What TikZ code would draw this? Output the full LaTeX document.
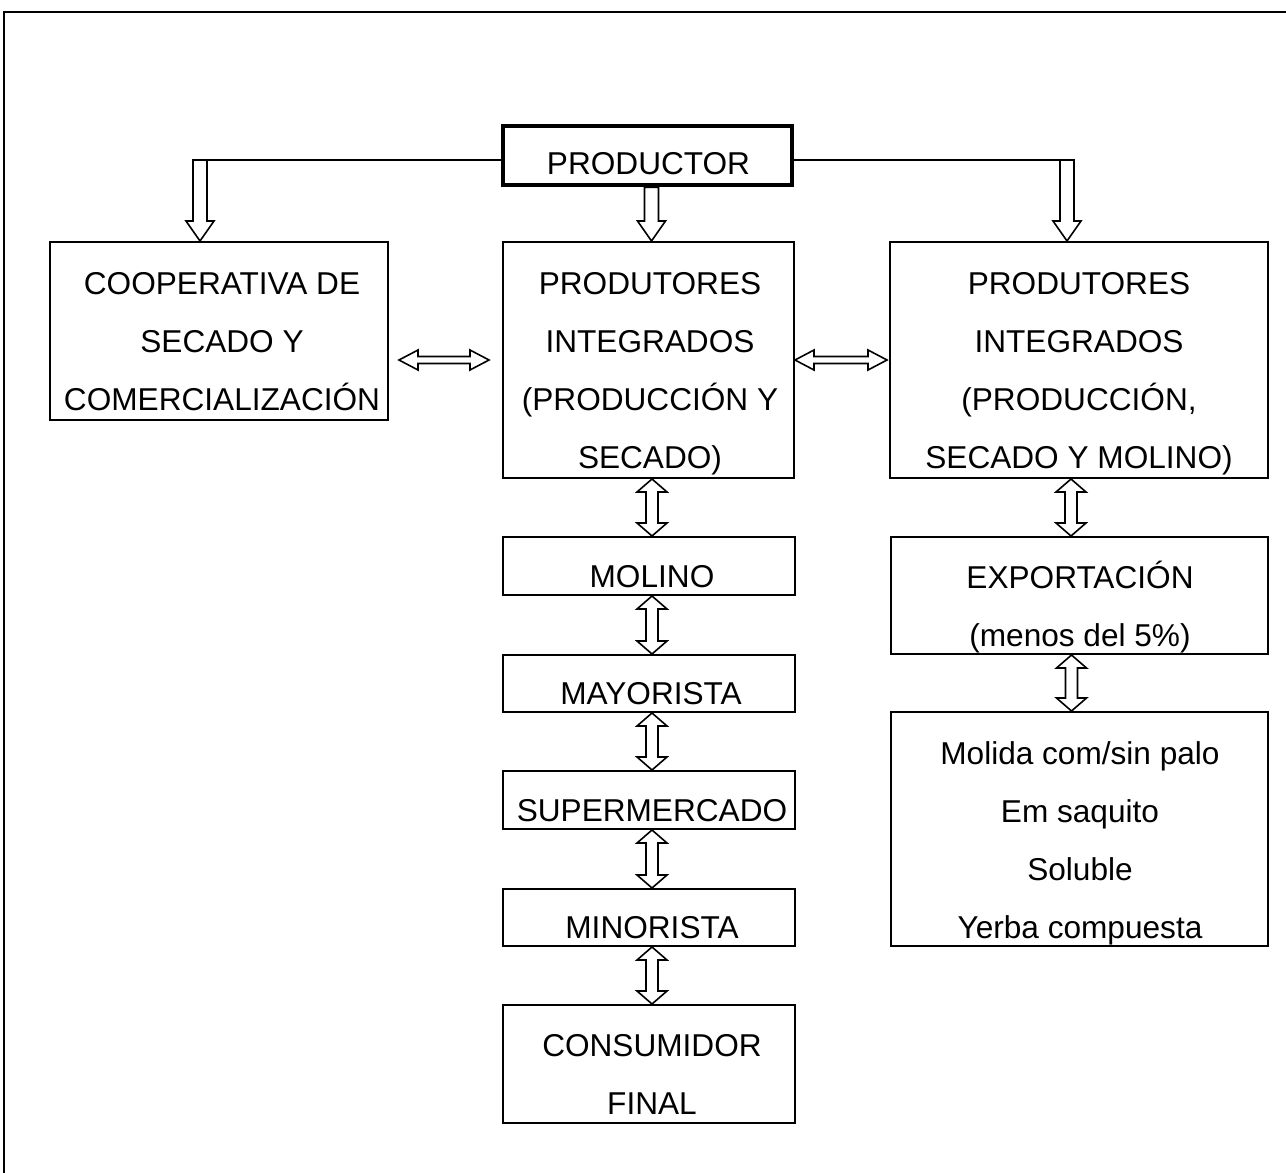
\documentclass[tikz,border=0pt]{standalone}
\usepackage{fontspec}
\setmainfont{Liberation Sans}
\usetikzlibrary{calc}
\tikzset{
  box/.style={draw, line width=1pt, inner sep=0pt, rectangle},
  pbox/.style={draw, line width=2.2pt, inner sep=0pt, rectangle},
  txt/.style={inner sep=0pt, align=center, font=\fontsize{15.8}{29}\selectfont},
  arr/.style={draw, line width=0.8pt, line join=miter},
  dv/.style={to path={let \p1=(\tikztostart),\p2=(\tikztotarget) in
    (\x1,\y1) -- (\x1+7.5pt,\y1-6.5pt) -- (\x1+3pt,\y1-6.5pt) -- (\x1+3pt,\y2+6.5pt)
    -- (\x1+7.5pt,\y2+6.5pt) -- (\x1,\y2) -- (\x1-7.5pt,\y2+6.5pt) -- (\x1-3pt,\y2+6.5pt)
    -- (\x1-3pt,\y1-6.5pt) -- (\x1-7.5pt,\y1-6.5pt) -- cycle}},
  dh/.style={to path={let \p1=(\tikztostart),\p2=(\tikztotarget) in
    (\x1,\y2) -- (\x1+9.5pt,\y2+5pt) -- (\x1+9.5pt,\y2+1.75pt) -- (\x2-9.5pt,\y2+1.75pt)
    -- (\x2-9.5pt,\y2+5pt) -- (\x2,\y2) -- (\x2-9.5pt,\y2-5pt) -- (\x2-9.5pt,\y2-1.75pt)
    -- (\x1+9.5pt,\y2-1.75pt) -- (\x1+9.5pt,\y2-5pt) -- cycle}},
  sd/.style={to path={let \p1=(\tikztostart),\p2=(\tikztotarget) in
    (\x1-3.5pt,\y1) -- (\x1+3.5pt,\y1) -- (\x1+3.5pt,\y2+10pt) -- (\x1+7pt,\y2+10pt)
    -- (\x1,\y2) -- (\x1-7pt,\y2+10pt) -- (\x1-3.5pt,\y2+10pt) -- cycle}},
}
\begin{document}
\begin{tikzpicture}[x=0.5pt,y=-0.5pt]
\useasboundingbox (0,0) rectangle (1286,1173);
\draw[line width=1.2pt] (4,1173) -- (4,12) -- (1286,12);

% boxes
\node[pbox, minimum width=144.5pt, minimum height=29.5pt] (prod) at (647.5,155.5) {};
\node[box, minimum width=169pt, minimum height=89pt] (coop) at (219,331) {};
\node[box, minimum width=145.5pt, minimum height=118pt] (pi1) at (648.5,360) {};
\node[box, minimum width=189pt, minimum height=118pt] (pi2) at (1079,360) {};
\node[box, minimum width=146pt, minimum height=29pt] (mol) at (649,566) {};
\node[box, minimum width=146pt, minimum height=28.5pt] (may) at (649,683.5) {};
\node[box, minimum width=146pt, minimum height=29pt] (sup) at (649,800) {};
\node[box, minimum width=146pt, minimum height=28.5pt] (min) at (649,917.5) {};
\node[box, minimum width=146pt, minimum height=59pt] (cons) at (649,1064) {};
\node[box, minimum width=188.5pt, minimum height=58.5pt] (exp) at (1079.5,595.5) {};
\node[box, minimum width=188.5pt, minimum height=117pt] (prx) at (1079.5,829) {};

% texts
\node[txt] (tprod) at (648.5,163) {\strut PRODUCTOR};
\node[txt] (tcoop) at (222,341) {\strut COOPERATIVA DE\\\strut SECADO Y\\\strut COMERCIALIZACIÓN};
\node[txt] (tpi1) at (650,370) {\strut PRODUTORES\\\strut INTEGRADOS\\\strut (PRODUCCIÓN Y\\\strut SECADO)};
\node[txt] (tpi2) at (1079,370) {\strut PRODUTORES\\\strut INTEGRADOS\\\strut (PRODUCCIÓN,\\\strut SECADO Y MOLINO)};
\node[txt] (tmol) at (652,576) {\strut MOLINO};
\node[txt] (tmay) at (651,693) {\strut MAYORISTA};
\node[txt] (tsup) at (652,810) {\strut SUPERMERCADO};
\node[txt] (tmin) at (652,927) {\strut MINORISTA};
\node[txt] (tcons) at (652,1074) {\strut CONSUMIDOR\\\strut FINAL};
\node[txt] (texp) at (1080,605.5) {\strut EXPORTACIÓN\\\strut (menos del 5\%)};
\node[txt] (tprx) at (1080,839.5) {\strut Molida com/sin palo\\\strut Em saquito\\\strut Soluble\\\strut Yerba compuesta};

% top connectors
\coordinate (cL) at (193,160);
\coordinate (aL) at (200,160);
\coordinate (cR) at (1074,160);
\coordinate (aR) at (1067,160);
\draw[arr] (prod.west |- cL) -- (cL);
\draw[arr] (prod.east |- cR) -- (cR);
\draw[arr] (aL) to[sd] (coop.north);
\draw[arr] ([xshift=2pt]prod.south) to[sd] (pi1.north);
\draw[arr] (aR) to[sd] (pi2.north);

% horizontal double arrows
\draw[arr] ([xshift=5pt]coop.east) to[dh] ([xshift=-6.5pt]pi1.west);
\draw[arr] (pi1.east) to[dh] ([xshift=-1pt]pi2.west);

% vertical double arrows, middle column
\draw[arr] ([xshift=1.75pt]pi1.south) to[dv] (mol.north);
\draw[arr] ([xshift=1.5pt]mol.south) to[dv] (may.north);
\draw[arr] ([xshift=1.5pt]may.south) to[dv] (sup.north);
\draw[arr] ([xshift=1.5pt]sup.south) to[dv] (min.north);
\draw[arr] ([xshift=1.5pt]min.south) to[dv] (cons.north);

% vertical double arrows, right column
\draw[arr] ([xshift=-4pt]pi2.south) to[dv] (exp.north);
\draw[arr] ([xshift=-4pt]exp.south) to[dv] (prx.north);
\end{tikzpicture}
\end{document}
